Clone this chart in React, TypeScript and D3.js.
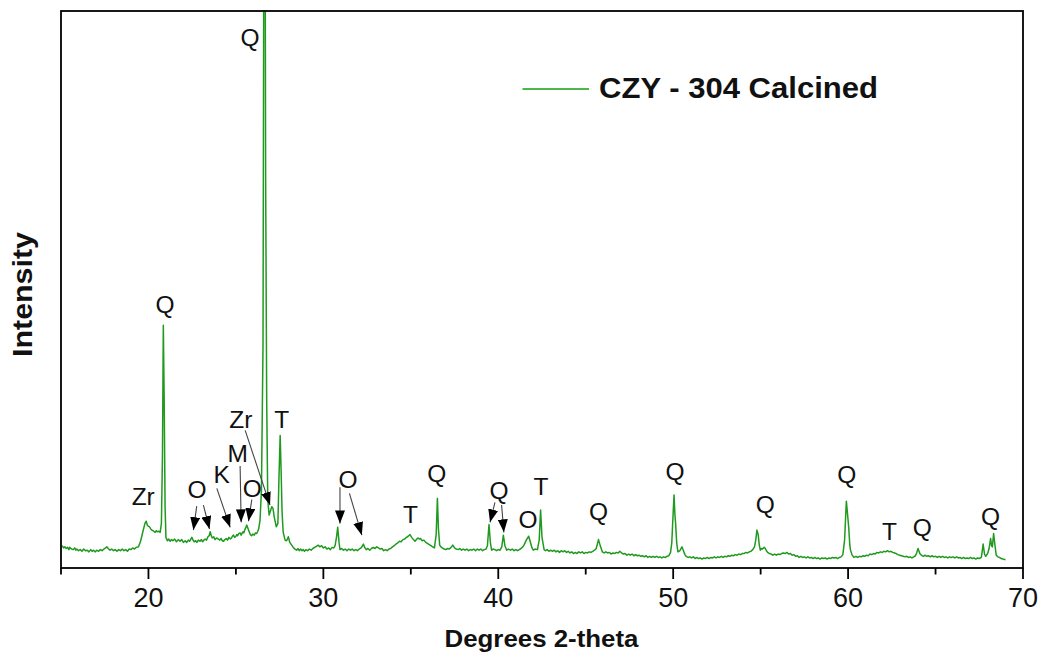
import React from "react";
import * as d3 from "d3";

// 2-theta (degrees), intensity (arbitrary counts)
const xrdPattern: [number, number][] = [
  [15.07, 40], [15.15, 36], [15.22, 38], [15.3, 35], [15.38, 37], [15.45, 33], [15.5, 37], [15.6, 34],
  [15.7, 33], [15.78, 36], [15.85, 32], [15.91, 34], [16.0, 31], [16.1, 33], [16.2, 30], [16.3, 34],
  [16.4, 31], [16.5, 32], [16.6, 29], [16.7, 33], [16.78, 30], [16.86, 32], [16.95, 29], [17.05, 32],
  [17.15, 30], [17.25, 33], [17.35, 31], [17.45, 34], [17.55, 36], [17.62, 38], [17.7, 35], [17.8, 32],
  [17.9, 34], [18.0, 31], [18.1, 33], [18.2, 30], [18.3, 33], [18.4, 31], [18.5, 34], [18.6, 31],
  [18.7, 33], [18.8, 30], [18.9, 34], [19.0, 33], [19.1, 36], [19.2, 34], [19.3, 37], [19.43, 38],
  [19.55, 48], [19.68, 65], [19.8, 80], [19.87, 84], [19.95, 76], [20.06, 74], [20.13, 70], [20.2, 68],
  [20.3, 66], [20.38, 64], [20.45, 67], [20.5, 65], [20.6, 66], [20.67, 64], [20.74, 80], [20.8, 200],
  [20.85, 436], [20.9, 300], [20.95, 110], [21.0, 55], [21.08, 49], [21.16, 52], [21.24, 48], [21.32, 51],
  [21.4, 49], [21.5, 52], [21.6, 47], [21.7, 51], [21.81, 48], [21.9, 51], [22.0, 46], [22.1, 49],
  [22.19, 46], [22.28, 50], [22.35, 48], [22.42, 52], [22.48, 55], [22.55, 50], [22.62, 47], [22.7, 49],
  [22.77, 46], [22.85, 50], [22.95, 48], [23.03, 51], [23.1, 47], [23.17, 50], [23.24, 52], [23.32, 50],
  [23.4, 56], [23.47, 58], [23.53, 65], [23.6, 57], [23.65, 54], [23.73, 56], [23.81, 51], [23.9, 54],
  [24.0, 52], [24.08, 50], [24.15, 53], [24.22, 49], [24.29, 48], [24.37, 51], [24.45, 53], [24.52, 50],
  [24.6, 55], [24.68, 52], [24.75, 54], [24.8, 57], [24.86, 59], [24.93, 55], [25.0, 57], [25.05, 60],
  [25.1, 58], [25.17, 62], [25.24, 63], [25.3, 59], [25.35, 62], [25.4, 65], [25.45, 63], [25.5, 68],
  [25.56, 72], [25.62, 77], [25.68, 72], [25.75, 66], [25.82, 60], [25.9, 58], [25.97, 61], [26.05, 59],
  [26.12, 63], [26.19, 62], [26.25, 66], [26.3, 70], [26.38, 86], [26.46, 140], [26.55, 400], [26.6, 1200],
  [26.66, 1300], [26.7, 700], [26.76, 300], [26.82, 122], [26.9, 95], [26.95, 100], [27.05, 110], [27.12, 107],
  [27.2, 90], [27.31, 74], [27.4, 80], [27.46, 160], [27.53, 238], [27.58, 180], [27.64, 100], [27.7, 65],
  [27.81, 50], [27.9, 49], [28.0, 56], [28.08, 46], [28.19, 41], [28.3, 36], [28.38, 34], [28.47, 32],
  [28.55, 35], [28.62, 31], [28.7, 34], [28.78, 31], [28.85, 33], [28.92, 30], [29.0, 33], [29.1, 31],
  [29.2, 34], [29.3, 32], [29.4, 35], [29.5, 37], [29.6, 39], [29.7, 41], [29.8, 38], [29.9, 40],
  [30.0, 36], [30.1, 38], [30.2, 34], [30.3, 36], [30.4, 33], [30.5, 37], [30.6, 36], [30.67, 40],
  [30.75, 55], [30.82, 73], [30.9, 45], [30.95, 33], [31.05, 35], [31.15, 32], [31.25, 34], [31.35, 31],
  [31.45, 34], [31.55, 32], [31.65, 34], [31.75, 31], [31.85, 33], [31.95, 31], [32.05, 34], [32.15, 36],
  [32.22, 39], [32.29, 43], [32.36, 37], [32.45, 33], [32.55, 35], [32.65, 32], [32.75, 35], [32.85, 37],
  [32.95, 35], [33.05, 38], [33.15, 36], [33.25, 34], [33.35, 35], [33.45, 31], [33.55, 33], [33.65, 31],
  [33.75, 34], [33.85, 35], [33.95, 38], [34.05, 40], [34.15, 43], [34.25, 45], [34.35, 48], [34.45, 47],
  [34.55, 51], [34.65, 52], [34.75, 55], [34.85, 57], [34.95, 60], [35.05, 55], [35.15, 51], [35.24, 48],
  [35.32, 51], [35.4, 54], [35.48, 52], [35.55, 53], [35.65, 49], [35.75, 50], [35.85, 46], [35.95, 44],
  [36.05, 42], [36.15, 40], [36.25, 38], [36.35, 36], [36.45, 60], [36.52, 125], [36.58, 70], [36.65, 41],
  [36.72, 38], [36.8, 36], [36.9, 34], [37.0, 33], [37.1, 35], [37.2, 34], [37.3, 37], [37.4, 41],
  [37.5, 36], [37.6, 34], [37.71, 33], [37.8, 35], [37.9, 32], [38.0, 34], [38.1, 32], [38.2, 34],
  [38.3, 31], [38.4, 33], [38.5, 32], [38.6, 34], [38.7, 31], [38.8, 34], [38.9, 32], [39.0, 34],
  [39.1, 31], [39.2, 33], [39.3, 34], [39.38, 40], [39.47, 78], [39.55, 45], [39.62, 32], [39.7, 34],
  [39.8, 33], [39.9, 31], [40.0, 33], [40.1, 32], [40.2, 38], [40.29, 59], [40.38, 40], [40.48, 32],
  [40.58, 34], [40.7, 32], [40.8, 34], [40.9, 31], [41.0, 33], [41.1, 31], [41.2, 33], [41.3, 35],
  [41.4, 38], [41.47, 41], [41.6, 50], [41.74, 57], [41.85, 45], [41.93, 36], [42.0, 32], [42.1, 34],
  [42.24, 33], [42.34, 50], [42.42, 104], [42.5, 55], [42.62, 33], [42.7, 31], [42.8, 33], [42.9, 30],
  [43.0, 32], [43.1, 30], [43.2, 32], [43.3, 29], [43.4, 31], [43.5, 28], [43.6, 31], [43.7, 29],
  [43.8, 31], [43.9, 28], [44.0, 30], [44.1, 27], [44.2, 29], [44.3, 26], [44.4, 28], [44.5, 26],
  [44.6, 29], [44.7, 27], [44.8, 29], [44.9, 26], [45.0, 28], [45.1, 27], [45.2, 29], [45.3, 28],
  [45.4, 30], [45.5, 32], [45.6, 35], [45.73, 51], [45.85, 38], [45.95, 29], [46.05, 27], [46.15, 29],
  [46.25, 27], [46.35, 28], [46.45, 25], [46.55, 27], [46.65, 26], [46.75, 28], [46.85, 27], [46.95, 30],
  [47.05, 27], [47.15, 25], [47.25, 26], [47.35, 23], [47.45, 25], [47.55, 23], [47.65, 25], [47.75, 22],
  [47.85, 24], [47.95, 22], [48.05, 23], [48.15, 21], [48.25, 22], [48.35, 20], [48.45, 22], [48.55, 19],
  [48.65, 21], [48.75, 19], [48.85, 21], [48.95, 19], [49.05, 21], [49.15, 19], [49.25, 20], [49.35, 18],
  [49.45, 20], [49.55, 19], [49.65, 21], [49.75, 22], [49.85, 28], [49.92, 45], [50.0, 100], [50.05, 131],
  [50.1, 95], [50.14, 80], [50.2, 45], [50.27, 29], [50.34, 30], [50.4, 32], [50.5, 38], [50.6, 30],
  [50.67, 24], [50.74, 21], [50.85, 19], [50.95, 20], [51.05, 18], [51.15, 20], [51.25, 17], [51.35, 19],
  [51.45, 17], [51.55, 18], [51.65, 16], [51.75, 18], [51.85, 17], [51.95, 19], [52.05, 17], [52.15, 19],
  [52.25, 18], [52.35, 20], [52.45, 18], [52.55, 20], [52.65, 19], [52.75, 21], [52.85, 19], [52.95, 21],
  [53.05, 20], [53.15, 22], [53.25, 21], [53.35, 23], [53.45, 22], [53.55, 24], [53.65, 23], [53.75, 25],
  [53.85, 24], [53.95, 26], [54.05, 26], [54.15, 28], [54.25, 27], [54.35, 29], [54.45, 30], [54.55, 33],
  [54.65, 38], [54.72, 50], [54.79, 68], [54.86, 60], [54.92, 42], [54.98, 32], [55.05, 35], [55.1, 34],
  [55.2, 37], [55.27, 35], [55.33, 31], [55.4, 28], [55.5, 26], [55.6, 25], [55.7, 23], [55.8, 25],
  [55.9, 23], [56.0, 25], [56.1, 24], [56.2, 26], [56.3, 27], [56.4, 26], [56.5, 28], [56.6, 25],
  [56.7, 26], [56.8, 23], [56.9, 24], [57.0, 21], [57.1, 22], [57.2, 19], [57.3, 21], [57.4, 19],
  [57.5, 20], [57.6, 18], [57.7, 20], [57.8, 18], [57.9, 19], [58.0, 17], [58.1, 19], [58.2, 17],
  [58.3, 18], [58.4, 16], [58.5, 18], [58.6, 17], [58.7, 18], [58.8, 16], [58.9, 18], [59.0, 17],
  [59.1, 19], [59.2, 18], [59.3, 19], [59.4, 17], [59.5, 19], [59.6, 20], [59.7, 24], [59.8, 50],
  [59.9, 120], [59.96, 100], [60.04, 71], [60.1, 40], [60.14, 32], [60.22, 24], [60.33, 19], [60.45, 21],
  [60.55, 19], [60.65, 21], [60.75, 20], [60.85, 22], [60.95, 21], [61.05, 23], [61.15, 22], [61.25, 25],
  [61.35, 24], [61.45, 26], [61.55, 25], [61.65, 28], [61.75, 27], [61.85, 29], [61.95, 28], [62.05, 30],
  [62.15, 29], [62.25, 31], [62.35, 29], [62.45, 30], [62.55, 28], [62.65, 27], [62.75, 26], [62.85, 24],
  [62.95, 23], [63.05, 22], [63.15, 21], [63.25, 20], [63.35, 21], [63.45, 19], [63.55, 20], [63.65, 18],
  [63.75, 20], [63.85, 22], [63.92, 27], [64.0, 35], [64.1, 26], [64.19, 23], [64.3, 21], [64.4, 23],
  [64.5, 21], [64.6, 22], [64.7, 20], [64.8, 22], [64.9, 20], [65.0, 21], [65.1, 19], [65.2, 21],
  [65.3, 19], [65.4, 21], [65.5, 19], [65.6, 20], [65.7, 18], [65.8, 20], [65.9, 19], [66.0, 20],
  [66.1, 18], [66.2, 20], [66.3, 18], [66.4, 19], [66.5, 17], [66.6, 19], [66.7, 17], [66.8, 18],
  [66.9, 17], [67.0, 19], [67.1, 17], [67.2, 18], [67.3, 16], [67.4, 18], [67.5, 17], [67.62, 19],
  [67.72, 43], [67.8, 25], [67.87, 21], [67.98, 26], [68.06, 35], [68.15, 53], [68.2, 40], [68.25, 38],
  [68.32, 62], [68.4, 40], [68.47, 23], [68.56, 20], [68.66, 19], [68.75, 17], [68.85, 16], [69.0, 15],
];

const majorTicks = [20, 30, 40, 50, 60, 70];
const minorTicks = [15, 25, 35, 45, 55, 65];

// phase labels: [text, 2-theta, intensity]
const peakLabels: [string, number, number][] = [
  ["Q", 25.81, 937], ["Zr", 19.7, 114], ["Q", 20.95, 458], ["O", 22.78, 125], ["K", 24.19, 152],
  ["M", 25.1, 190], ["O", 25.93, 127], ["Zr", 25.28, 251], ["T", 27.62, 251], ["O", 31.41, 143],
  ["T", 34.98, 80], ["Q", 36.48, 154], ["Q", 40.04, 124], ["O", 41.7, 71], ["T", 42.44, 131],
  ["Q", 45.73, 86], ["Q", 50.1, 158], ["Q", 55.27, 99], ["Q", 59.93, 153], ["T", 62.37, 50],
  ["Q", 64.24, 57], ["Q", 68.15, 77],
];

// arrows: [from 2-theta, from intensity, to 2-theta, to intensity]
const peakArrows: [number, number, number, number][] = [
  [22.76, 111, 22.57, 68], [23.14, 113, 23.49, 70], [23.91, 143, 24.67, 73], [25.24, 183, 25.3, 82],
  [25.91, 123, 25.72, 84], [25.53, 247, 26.95, 113], [30.95, 145, 30.95, 80], [31.49, 134, 32.2, 59],
  [39.81, 118, 39.53, 82], [40.19, 113, 40.32, 64],
];

const seriesName = "CZY - 304 Calcined";
const xTitle = "Degrees 2-theta";
const yTitle = "Intensity";

const W = 1042;
const H = 657;
const M = { left: 61, right: 1023, top: 11, bottom: 568 };

export default function App() {
  const x = d3.scaleLinear().domain([15, 70]).range([M.left, M.right]);
  const y = d3.scaleLinear().domain([0, 1000]).range([M.bottom, M.top]);
  const line = d3
    .line<[number, number]>()
    .x((d) => x(d[0]))
    .y((d) => y(d[1]));
  const green = "#1f9a1f";
  const font = "'Liberation Sans', Arial, sans-serif";

  return (
    <svg
      width={W}
      height={H}
      style={{ position: "absolute", left: 0, top: 0, background: "#fff" }}
      fontFamily={font}
    >
      <defs>
        <clipPath id="plotClip">
          <rect x={M.left} y={M.top} width={M.right - M.left} height={M.bottom - M.top} />
        </clipPath>
        <marker
          id="arrowHead"
          markerUnits="userSpaceOnUse"
          markerWidth={14}
          markerHeight={10}
          refX={13}
          refY={5}
          orient="auto"
        >
          <path d="M0,0 L13,5 L0,10 Z" fill="#000" />
        </marker>
      </defs>
      <rect x={0} y={0} width={W} height={H} fill="#fff" />

      <path
        d={line(xrdPattern) || ""}
        fill="none"
        stroke={green}
        strokeWidth={1.5}
        strokeLinejoin="round"
        clipPath="url(#plotClip)"
      />

      {/* frame */}
      <rect
        x={M.left}
        y={M.top}
        width={M.right - M.left}
        height={M.bottom - M.top}
        fill="none"
        stroke="#000"
        strokeWidth={1.8}
      />

      {/* ticks */}
      {majorTicks.map((t) => (
        <g key={"M" + t}>
          <line x1={x(t)} x2={x(t)} y1={M.bottom} y2={M.bottom + 11} stroke="#000" strokeWidth={1.8} />
          <text x={x(t)} y={607} textAnchor="middle" fontSize={27} fill="#111">
            {t}
          </text>
        </g>
      ))}
      {minorTicks.map((t) => (
        <line key={"m" + t} x1={x(t)} x2={x(t)} y1={M.bottom} y2={M.bottom + 6.5} stroke="#000" strokeWidth={1.8} />
      ))}

      {/* axis titles */}
      <text
        x={541.5}
        y={646.5}
        textAnchor="middle"
        fontSize={24}
        fontWeight="bold"
        fill="#111"
        textLength={194}
        lengthAdjust="spacingAndGlyphs"
      >
        {xTitle}
      </text>
      <text
        transform="translate(31.5,294.5) rotate(-90)"
        textAnchor="middle"
        fontSize={27}
        fontWeight="bold"
        fill="#111"
        textLength={125}
        lengthAdjust="spacingAndGlyphs"
      >
        {yTitle}
      </text>

      {/* legend */}
      <line x1={522.5} x2={589} y1={89} y2={89} stroke="#4cb84c" strokeWidth={2} />
      <text
        x={599}
        y={97.5}
        fontSize={29}
        fontWeight="bold"
        fill="#111"
        textLength={279}
        lengthAdjust="spacingAndGlyphs"
      >
        {seriesName}
      </text>

      {/* arrows */}
      {peakArrows.map((a, i) => (
        <line
          key={"a" + i}
          x1={x(a[0])}
          y1={y(a[1])}
          x2={x(a[2])}
          y2={y(a[3])}
          stroke="#444"
          strokeWidth={1.1}
          markerEnd="url(#arrowHead)"
        />
      ))}

      {/* labels */}
      {peakLabels.map((l, i) => (
        <text key={"l" + i} x={x(l[1])} y={y(l[2])} textAnchor="middle" fontSize={24.5} fill="#111">
          {l[0]}
        </text>
      ))}
    </svg>
  );
}
